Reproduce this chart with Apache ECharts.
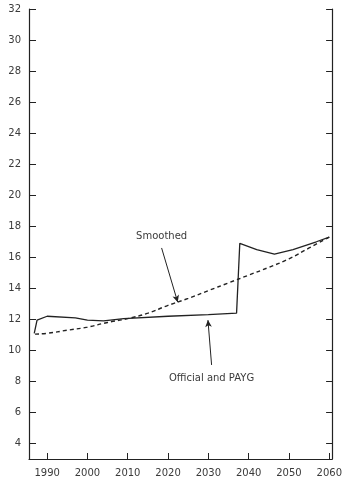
<!DOCTYPE html>
<html>
<head>
<meta charset="utf-8">
<script src="https://cdn.jsdelivr.net/npm/echarts@6/dist/echarts.min.js"></script>
<style>
  html, body { margin: 0; padding: 0; background: #fff; }
  #chart { width: 345px; height: 486px; }
</style>
</head>
<body>
<div id="chart"></div>
<script>
// tick positions
const yearTicks = [1990, 2000, 2010, 2020, 2030, 2040, 2050, 2060]
const valueTicks = [4, 6, 8, 10, 12, 14, 16, 18, 20, 22, 24, 26, 28, 30, 32]

// Official and PAYG (solid)
const officialYears = [1986.8, 1987.5, 1990, 1997, 2000, 2004, 2009, 2020, 2030, 2037, 2037.8, 2042, 2046.4, 2051, 2056.8, 2060]
const officialValues = [11.1, 11.95, 12.2, 12.1, 11.95, 11.9, 12.05, 12.2, 12.3, 12.4, 16.9, 16.5, 16.2, 16.5, 17.0, 17.3]

// Smoothed (dashed)
const smoothYears = [1987, 1990, 1995, 2000, 2005, 2010, 2015, 2020, 2025, 2030, 2035, 2040, 2045, 2050, 2055, 2060]
const smoothValues = [11.05, 11.1, 11.3, 11.5, 11.8, 12.05, 12.4, 12.9, 13.35, 13.85, 14.35, 14.85, 15.35, 15.9, 16.6, 17.3]

const ink = '#222'
const textInk = '#3a3a3a'
const font = 'DejaVu Sans'

const zip = (xs, ys) => xs.map((x, i) => [x, ys[i]])

const chart = echarts.init(document.getElementById('chart'))

const note = (name, x, y) => ({
  name,
  coord: [x, y],
  symbol: 'circle',
  symbolSize: 1,
  itemStyle: { color: 'rgba(0,0,0,0)' },
  label: {
    show: true,
    position: 'inside',
    formatter: '{b}',
    color: textInk,
    fontFamily: font,
    fontSize: 10,
  },
})

const arrow = (x1, y1, x2, y2) => [
  { coord: [x1, y1] },
  { coord: [x2, y2] },
]

chart.setOption({
  animation: false,
  grid: { left: 29, right: 12, top: 9, bottom: 27 },
  xAxis: {
    type: 'value',
    min: 1985.5,
    max: 2060.7,
    axisLine: { show: true, lineStyle: { color: ink, width: 1.2 } },
    axisTick: {
      show: true,
      inside: true,
      length: 6,
      customValues: yearTicks,
      lineStyle: { color: ink, width: 1 },
    },
    axisLabel: {
      customValues: yearTicks,
      formatter: (v) => String(v),
      color: textInk,
      fontFamily: font,
      fontSize: 10,
      margin: 9,
    },
    splitLine: { show: false },
  },
  yAxis: [
    {
      type: 'value',
      min: 3,
      max: 32,
      axisLine: { show: true, lineStyle: { color: ink, width: 1.2 } },
      axisTick: {
        show: true,
        inside: true,
        length: 7,
        customValues: valueTicks,
        lineStyle: { color: ink, width: 1 },
      },
      axisLabel: {
        customValues: valueTicks,
        color: textInk,
        fontFamily: font,
        fontSize: 10,
        margin: 8,
      },
      splitLine: { show: false },
    },
    {
      type: 'value',
      position: 'right',
      min: 3,
      max: 32,
      axisLine: { show: true, lineStyle: { color: ink, width: 1.2 } },
      axisTick: {
        show: true,
        inside: true,
        length: 6,
        customValues: valueTicks,
        lineStyle: { color: ink, width: 1 },
      },
      axisLabel: { show: false },
      splitLine: { show: false },
    },
  ],
  series: [
    {
      name: 'Official and PAYG',
      type: 'line',
      data: zip(officialYears, officialValues),
      symbol: 'none',
      lineStyle: { color: ink, width: 1.3 },
      markLine: {
        silent: true,
        symbol: ['none', 'arrow'],
        symbolSize: [5, 7],
        label: { show: false },
        lineStyle: { color: ink, width: 1, type: 'solid' },
        data: [arrow(2030.8, 9.06, 2029.9, 11.95)],
      },
      markPoint: {
        silent: true,
        data: [note('Official and PAYG', 2030.8, 8.22)],
      },
    },
    {
      name: 'Smoothed',
      type: 'line',
      data: zip(smoothYears, smoothValues),
      symbol: 'none',
      smooth: true,
      lineStyle: { color: ink, width: 1.4, type: [4, 3] },
      markLine: {
        silent: true,
        symbol: ['none', 'arrow'],
        symbolSize: [5, 7],
        label: { show: false },
        lineStyle: { color: ink, width: 1, type: 'solid' },
        data: [arrow(2018.4, 16.6, 2022.4, 13.1)],
      },
      markPoint: {
        silent: true,
        data: [note('Smoothed', 2018.4, 17.37)],
      },
    },
  ],
})
</script>
</body>
</html>
